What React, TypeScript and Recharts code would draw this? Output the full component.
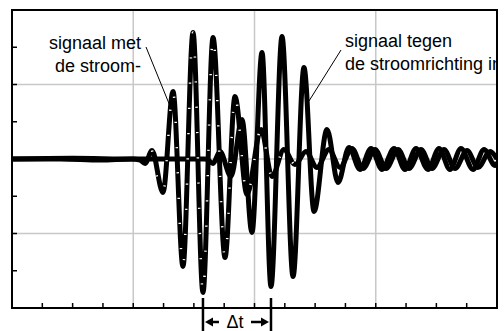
import { CartesianGrid, Line, LineChart, ReferenceArea, XAxis, YAxis } from "recharts"

// time axis 0..400 (arbitrary units), amplitude -100..100
const signal1T = [0, 40, 73, 99, 105.6, 109.7, 115.5, 124.5, 132.8, 141.0, 149.3, 157.5, 165.8, 175.7, 183.9, 193.8, 205.4, 214.4, 224.3, 233.4, 242.5, 251.5, 261.4, 270.5, 280.4, 289.5, 299.4, 308.5, 318.4, 327.4, 337.3, 346.4, 356.3, 365.4, 375.3, 384.3, 394.2, 400]
const signal1V = [0, 0, -0.7, 0, -0.7, -3, 5.7, -22.5, 45.3, -72.1, 84.9, -89.6, 81.5, -66.1, 41.9, -23.8, 19.8, -11.7, 6.4, -3.7, 5, -5.7, 6.4, -5.7, 7, -6.4, 6.4, -6.4, 6.4, -6.4, 6.4, -6.4, 6.4, -6.4, 5.7, -5.7, 5, 0]

const signal2T = [0, 50, 100, 159.2, 161.6, 165.8, 171.5, 180.6, 189.7, 197.9, 206.2, 213.6, 222.7, 231.8, 240.8, 249.1, 259.8, 268.9, 277.9, 287, 296.1, 305.2, 315.1, 324.1, 333.2, 343.1, 352.2, 361.2, 370.3, 380.2, 389.3, 398.4, 400]
const signal2V = [0, 0.5, 0, 0, -0.7, -3, 5, -11.7, 26.5, -49.3, 71.5, -85.6, 82.2, -78.9, 61.4, -35.2, 19.8, -15.8, 7.7, -7, 7, -7, 7, -7, 7, -7, 7, -7, 7, -7, 6.4, -4.4, -2]

const xTicks = [0, 25, 50, 75, 100, 125, 150, 175, 200, 225, 250, 275, 300, 325, 350, 375, 400]
const yTicks = [-100, -75, -50, -25, 0, 25, 50, 75, 100]
const gridX = [100, 200, 300]
const gridY = [-50, 0, 50]

const labelMet = ["signaal met", "de stroom-"]
const labelTegen = ["signaal tegen", "de stroomrichting in"]

const signal1 = signal1T.map((t, i) => ({ t, v: signal1V[i] }))
const signal2 = signal2T.map((t, i) => ({ t, v: signal2V[i] }))
const signal1Active = signal1.filter((d) => d.t >= 110 && d.t <= 245)

// plot box in pixels (used only for the annotations)
const left = 12
const right = 497
const xPx = (t: number) => left + (t / 400) * (right - left)

const minT = (data: { t: number; v: number }[]) =>
  data.reduce((a, b) => (b.v < a.v ? b : a)).t

export default function App() {
  const m1 = xPx(minT(signal1))
  const m2 = xPx(minT(signal2))
  const font = "'Liberation Sans', Arial, sans-serif"

  return (
    <div style={{ position: "absolute", left: 0, top: 0, width: 504, height: 331, background: "#fff" }}>
      <LineChart width={504} height={331} margin={{ top: 10, right: 7, bottom: 22, left: 11 }}>
        <CartesianGrid stroke="#c8c8c8" strokeWidth={1.5} horizontalValues={gridY} verticalValues={gridX} />
        <XAxis
          type="number"
          dataKey="t"
          domain={[0, 400]}
          ticks={xTicks}
          interval={0}
          height={1}
          tickSize={0}
          tickMargin={0}
          axisLine={false}
          tickLine={false}
          tick={(p: any) => <line key={p.index} x1={p.x} x2={p.x} y1={p.y - 1} y2={p.y - 5} stroke="#000" strokeWidth={1.5} />}
          allowDataOverflow
        />
        <YAxis
          type="number"
          domain={[-100, 100]}
          ticks={yTicks}
          interval={0}
          width={1}
          tickSize={0}
          tickMargin={0}
          axisLine={false}
          tickLine={false}
          tick={(p: any) => <line key={p.index} x1={p.x + 1} x2={p.x + 5} y1={p.y} y2={p.y} stroke="#000" strokeWidth={1.5} />}
          allowDataOverflow
        />
        <Line data={signal2} dataKey="v" type="monotone" stroke="#000" strokeWidth={5} dot={false} isAnimationActive={false} strokeLinejoin="round" />
        <Line data={signal1} dataKey="v" type="monotone" stroke="#000" strokeWidth={5} dot={false} isAnimationActive={false} strokeLinejoin="round" />
        <Line data={signal1Active} dataKey="v" type="monotone" stroke="#fff" strokeWidth={2.5} strokeDasharray="1.2 24" dot={false} isAnimationActive={false} />
        <ReferenceArea x1={0} x2={400} y1={-100} y2={100} fill="none" fillOpacity={0} stroke="#000" strokeWidth={2} />
      </LineChart>

      <svg width={504} height={331} style={{ position: "absolute", left: 0, top: 0, pointerEvents: "none" }}>
        <defs>
          <clipPath id="plotClip">
            <rect x={0} y={0} width={right} height={331} />
          </clipPath>
        </defs>
        <g fontFamily={font} fontSize={18} fill="#000">
          <text x={49} y={49}>{labelMet[0]}</text>
          <text x={55} y={72}>{labelMet[1]}</text>
          <g clipPath="url(#plotClip)">
            <text x={345} y={47}>{labelTegen[0]}</text>
            <text x={345} y={70}>{labelTegen[1]}</text>
          </g>
        </g>
        <line x1={146} y1={47} x2={170} y2={106} stroke="#000" strokeWidth={1} />
        <line x1={341} y1={50} x2={309} y2={101} stroke="#000" strokeWidth={1} />

        {/* delta t */}
        <line x1={m1} x2={m1} y1={298} y2={331} stroke="#000" strokeWidth={2.5} />
        <line x1={m2} x2={m2} y1={298} y2={331} stroke="#000" strokeWidth={2.5} />
        <line x1={m1 + 8} x2={m1 + 16} y1={322} y2={322} stroke="#000" strokeWidth={2.5} />
        <polygon points={`${m1 + 2},322 ${m1 + 10},317.5 ${m1 + 10},326.5`} fill="#000" />
        <line x1={m2 - 20} x2={m2 - 8} y1={322} y2={322} stroke="#000" strokeWidth={2.5} />
        <polygon points={`${m2 - 2},322 ${m2 - 10},317.5 ${m2 - 10},326.5`} fill="#000" />
        <text x={(m1 + m2) / 2 - 2} y={328} textAnchor="middle" fontFamily={font} fontSize={18}>Δt</text>
      </svg>
    </div>
  )
}
